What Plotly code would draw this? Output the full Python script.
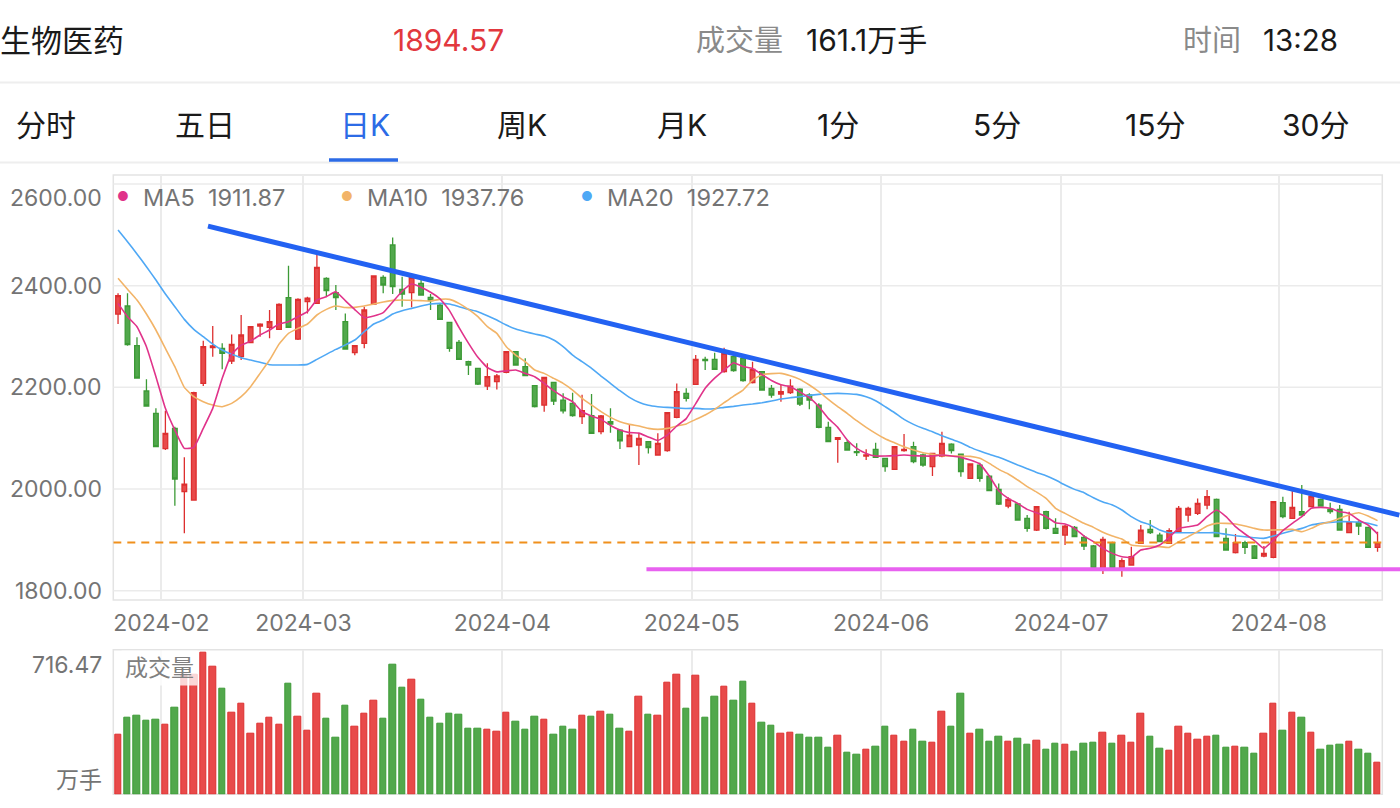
import plotly.graph_objects as go

# ---------------- data ----------------
OPEN = [2344.2, 2360.0, 2282.0, 2192.8, 2148.8, 2079.3, 2119.3, 1994.7, 1978.3, 2207.8,
        2278.0, 2276.7, 2251.8, 2260.3, 2287.8, 2320.6, 2318.0, 2314.0, 2376.4, 2295.0,
        2368.5, 2365.2, 2414.4, 2386.2, 2329.2, 2268.2, 2286.5, 2363.9, 2416.4, 2480.0,
        2392.8, 2386.2, 2404.6, 2377.0, 2361.9, 2327.8, 2288.5, 2250.5, 2237.4, 2202.6,
        2211.1, 2229.5, 2270.1, 2240.6, 2203.3, 2165.2, 2209.8, 2175.0, 2168.5, 2142.3,
        2144.2, 2112.8, 2132.4, 2116.0, 2083.3, 2086.5, 2093.1, 2066.9, 2075.4, 2141.0,
        2188.2, 2205.9, 2255.0, 2255.0, 2230.8, 2260.3, 2257.0, 2209.2, 2230.8, 2198.0,
        2186.9, 2189.5, 2196.7, 2184.9, 2165.2, 2121.3, 2097.7, 2091.1, 2073.4, 2064.9,
        2078.0, 2060.3, 2038.7, 2075.4, 2083.3, 2066.9, 2043.9, 2064.9, 2088.5, 2068.8,
        2021.0, 2047.2, 2025.5, 1999.3, 1966.6, 1970.5, 1942.3, 1919.3, 1955.4, 1922.6,
        1909.5, 1924.6, 1904.9, 1887.9, 1843.9, 1894.4, 1845.9, 1850.5, 1893.1, 1920.6,
        1909.5, 1893.1, 1916.0, 1948.8, 1952.1, 1968.5, 1979.7, 1903.0, 1874.8, 1894.4,
        1887.9, 1868.2, 1865.6, 1973.1, 1942.3, 1955.4, 1965.2, 1979.7, 1960.0, 1960.0,
        1914.1, 1933.8, 1924.6, 1885.2]
HIGH = [2384.9, 2384.9, 2298.3, 2215.7, 2158.7, 2154.1, 2122.6, 2062.3, 2191.5, 2291.8,
        2320.6, 2286.5, 2304.2, 2342.3, 2320.6, 2325.9, 2352.1, 2365.2, 2439.3, 2375.1,
        2378.3, 2463.6, 2416.4, 2401.3, 2345.5, 2283.3, 2358.7, 2420.3, 2420.3, 2495.0,
        2417.7, 2422.9, 2411.1, 2383.6, 2365.2, 2329.2, 2293.0, 2252.4, 2238.7, 2247.2,
        2226.2, 2271.4, 2271.4, 2257.0, 2204.6, 2221.0, 2211.1, 2188.2, 2189.5, 2185.6,
        2187.0, 2145.5, 2158.7, 2117.4, 2125.9, 2109.5, 2094.4, 2109.5, 2151.5, 2207.8,
        2198.0, 2263.6, 2260.3, 2268.2, 2278.0, 2263.6, 2258.3, 2250.5, 2232.1, 2204.6,
        2204.6, 2215.7, 2198.0, 2188.2, 2168.5, 2132.4, 2101.0, 2096.4, 2089.8, 2078.0,
        2091.1, 2061.6, 2084.6, 2108.2, 2093.1, 2070.1, 2071.5, 2112.8, 2089.8, 2070.1,
        2050.5, 2051.8, 2027.5, 2011.1, 1983.6, 1971.8, 1948.8, 1966.5, 1957.4, 1942.3,
        1929.2, 1927.2, 1909.5, 1889.8, 1906.2, 1896.4, 1863.6, 1886.6, 1929.2, 1939.0,
        1914.1, 1922.6, 1966.5, 1965.2, 1981.6, 1998.0, 1981.6, 1922.6, 1911.5, 1898.4,
        1889.8, 1887.9, 1976.4, 1984.9, 1996.7, 2007.9, 1994.7, 1981.6, 1973.1, 1968.5,
        1955.4, 1937.7, 1925.9, 1916.0]
LOW = [2324.5, 2282.0, 2218.3, 2163.3, 2083.3, 2076.7, 1967.2, 1912.8, 1978.3, 2202.6,
       2260.3, 2235.4, 2245.9, 2253.8, 2286.5, 2299.6, 2296.4, 2312.7, 2318.0, 2293.0,
       2345.5, 2363.9, 2378.3, 2352.1, 2275.4, 2262.9, 2276.7, 2362.6, 2384.9, 2383.6,
       2358.7, 2357.4, 2380.3, 2352.0, 2332.4, 2270.1, 2253.7, 2224.2, 2204.6, 2194.7,
       2196.0, 2227.5, 2242.6, 2222.9, 2160.6, 2152.0, 2165.2, 2148.8, 2142.3, 2127.9,
       2108.2, 2107.5, 2110.8, 2078.7, 2082.0, 2047.2, 2070.1, 2066.9, 2073.4, 2139.0,
       2172.0, 2204.6, 2234.1, 2234.1, 2228.8, 2230.8, 2211.1, 2207.8, 2193.4, 2179.7,
       2171.8, 2186.9, 2163.3, 2156.7, 2119.3, 2093.1, 2051.8, 2075.4, 2064.9, 2057.0,
       2062.3, 2034.1, 2038.7, 2073.4, 2050.5, 2043.9, 2025.5, 2062.3, 2070.1, 2024.2,
       2019.7, 2014.4, 1996.7, 1968.5, 1962.0, 1937.7, 1916.0, 1917.4, 1920.6, 1911.5,
       1889.8, 1904.9, 1880.0, 1843.9, 1832.8, 1842.6, 1827.5, 1849.2, 1891.8, 1911.5,
       1895.1, 1893.1, 1914.8, 1935.7, 1948.8, 1960.0, 1906.2, 1880.0, 1873.4, 1872.1,
       1862.3, 1865.6, 1863.6, 1942.3, 1941.0, 1947.5, 1963.9, 1965.2, 1951.5, 1918.0,
       1912.8, 1909.5, 1884.6, 1876.6]
CLOSE = [2380.3, 2283.9, 2218.3, 2163.3, 2083.3, 2109.5, 2019.7, 2009.8, 2189.5, 2280.0,
         2281.3, 2266.9, 2284.6, 2303.0, 2319.3, 2324.5, 2329.2, 2363.2, 2318.0, 2373.1,
         2375.7, 2436.0, 2390.1, 2376.4, 2275.4, 2282.0, 2352.1, 2419.0, 2401.3, 2398.0,
         2383.6, 2416.4, 2381.6, 2370.5, 2333.7, 2276.7, 2255.0, 2243.9, 2206.5, 2221.0,
         2222.3, 2270.1, 2243.9, 2222.9, 2162.0, 2219.6, 2173.1, 2154.0, 2144.2, 2154.1,
         2109.5, 2143.6, 2127.9, 2095.0, 2106.2, 2099.7, 2081.3, 2089.8, 2150.1, 2191.5,
         2178.3, 2255.0, 2252.4, 2235.4, 2266.9, 2232.8, 2213.1, 2235.4, 2194.7, 2184.9,
         2191.5, 2202.6, 2167.2, 2175.0, 2121.3, 2093.1, 2101.0, 2076.7, 2071.5, 2066.9,
         2062.3, 2043.9, 2083.3, 2078.0, 2053.8, 2047.2, 2070.1, 2089.8, 2075.4, 2034.1,
         2049.2, 2021.0, 1996.7, 1970.5, 1979.7, 1939.0, 1922.6, 1965.2, 1922.6, 1912.8,
         1927.2, 1906.2, 1887.9, 1843.9, 1901.0, 1843.9, 1859.0, 1866.9, 1919.3, 1914.1,
         1896.4, 1918.0, 1961.9, 1961.9, 1971.8, 1984.9, 1906.2, 1880.0, 1894.4, 1885.2,
         1863.6, 1873.4, 1975.1, 1945.6, 1963.9, 1948.8, 1986.2, 1966.6, 1955.4, 1919.3,
         1933.8, 1927.2, 1885.2, 1894.57]
VOLUME = [304, 389, 401, 372, 379, 355, 439, 608, 606, 716.47,
          647, 534, 412, 461, 309, 357, 387, 352, 561, 395,
          323, 509, 385, 289, 451, 343, 407, 477, 385, 657,
          542, 583, 482, 390, 360, 409, 404, 335, 335, 330,
          319, 414, 370, 326, 395, 380, 301, 345, 330, 401,
          395, 421, 406, 335, 319, 495, 402, 401, 568, 607,
          434, 602, 390, 497, 546, 475, 571, 461, 363, 350,
          308, 311, 303, 289, 289, 238, 297, 213, 199, 225,
          240, 345, 299, 269, 330, 265, 264, 417, 345, 510,
          309, 330, 269, 291, 269, 282, 252, 270, 228, 259,
          254, 215, 255, 260, 314, 257, 299, 260, 411, 294,
          233, 223, 345, 306, 279, 292, 297, 238, 240, 235,
          204, 309, 458, 324, 412, 389, 313, 228, 245, 252,
          265, 228, 208, 161.1]
MA5 = [2365.2, 2339.0, 2319.3, 2280.0, 2221.0, 2158.7, 2116.0, 2080.0, 2082.0, 2119.3,
       2158.7, 2217.7, 2265.0, 2283.0, 2291.0, 2303.0, 2312.8, 2324.6, 2329.2, 2339.0,
       2348.8, 2371.8, 2378.3, 2388.2, 2370.5, 2353.0, 2337.0, 2340.3, 2346.9, 2368.0,
       2389.0, 2403.2, 2397.0, 2387.0, 2374.0, 2351.0, 2318.0, 2287.0, 2259.0, 2239.0,
       2230.5, 2232.5, 2234.1, 2227.5, 2221.0, 2207.8, 2193.4, 2181.6, 2171.8, 2152.0,
       2143.6, 2137.0, 2125.0, 2116.0, 2111.0, 2110.0, 2102.5, 2095.5, 2106.0, 2124.0,
       2138.5, 2168.0, 2198.0, 2218.0, 2234.0, 2248.5, 2241.0, 2237.0, 2225.0, 2213.5,
       2205.0, 2201.3, 2190.8, 2179.7, 2162.0, 2139.0, 2121.3, 2096.4, 2080.0, 2070.1,
       2064.9, 2064.9, 2065.6, 2066.9, 2065.6, 2064.9, 2064.9, 2066.9, 2064.9, 2062.3,
       2057.0, 2049.2, 2025.6, 1996.7, 1981.6, 1971.8, 1960.0, 1953.4, 1945.6, 1933.8,
       1931.1, 1922.6, 1907.5, 1896.4, 1883.3, 1873.4, 1866.9, 1865.6, 1880.0, 1883.3,
       1889.8, 1904.9, 1922.6, 1925.9, 1929.2, 1945.6, 1958.7, 1945.6, 1925.9, 1911.5,
       1898.4, 1883.3, 1899.7, 1918.0, 1932.5, 1945.6, 1962.0, 1963.9, 1962.0, 1955.4,
       1952.1, 1939.0, 1929.2, 1911.87]
MA10 = [2414.4, 2392.8, 2371.8, 2344.2, 2312.8, 2276.7, 2240.6, 2200.0, 2181.6, 2171.8,
        2165.2, 2161.9, 2168.5, 2181.6, 2201.3, 2227.5, 2253.7, 2285.0, 2306.2, 2316.0,
        2324.6, 2342.3, 2353.4, 2360.0, 2357.0, 2357.4, 2360.0, 2363.9, 2367.8, 2371.1,
        2371.8, 2371.1, 2370.5, 2369.9, 2373.1, 2373.1, 2365.2, 2353.4, 2339.0, 2319.3,
        2306.2, 2280.0, 2263.6, 2250.5, 2234.1, 2227.5, 2217.7, 2207.8, 2194.7, 2178.3,
        2165.2, 2152.1, 2141.0, 2132.4, 2127.2, 2123.9, 2119.3, 2117.4, 2119.3, 2123.9,
        2128.0, 2137.0, 2145.5, 2156.7, 2169.8, 2182.9, 2194.7, 2214.4, 2224.9, 2226.9,
        2227.5, 2222.9, 2215.7, 2204.6, 2191.5, 2176.4, 2162.0, 2148.8, 2134.4, 2121.3,
        2109.5, 2099.0, 2091.1, 2083.3, 2076.7, 2071.5, 2068.2, 2066.2, 2064.9, 2064.9,
        2064.2, 2060.3, 2050.4, 2038.7, 2029.5, 2017.7, 2004.6, 1994.0, 1981.6, 1962.0,
        1952.1, 1942.3, 1932.5, 1924.6, 1914.8, 1907.5, 1901.6, 1889.8, 1887.9, 1887.2,
        1886.6, 1885.2, 1896.4, 1906.2, 1916.1, 1927.2, 1932.5, 1932.5, 1931.1, 1927.2,
        1922.6, 1919.3, 1919.3, 1920.0, 1920.6, 1916.0, 1922.6, 1931.1, 1935.7, 1942.3,
        1948.8, 1953.4, 1946.9, 1937.76]
MA20 = [2509.5, 2486.5, 2462.3, 2437.4, 2411.1, 2383.6, 2358.7, 2333.7, 2314.1, 2299.6,
        2285.2, 2273.4, 2264.9, 2258.3, 2253.7, 2249.2, 2244.6, 2243.9, 2243.9, 2243.9,
        2245.2, 2255.0, 2264.9, 2274.7, 2283.5, 2293.1, 2309.5, 2324.6, 2332.4, 2344.2,
        2350.8, 2355.4, 2360.0, 2363.9, 2365.2, 2363.9, 2358.7, 2353.4, 2348.8, 2341.0,
        2332.4, 2322.6, 2314.7, 2309.5, 2304.9, 2301.0, 2293.1, 2280.0, 2263.6, 2250.5,
        2237.4, 2222.3, 2207.8, 2193.4, 2180.3, 2170.5, 2164.6, 2161.9, 2160.6, 2159.5,
        2158.5, 2158.7, 2157.4, 2158.0, 2160.6, 2162.6, 2165.2, 2167.2, 2169.8, 2173.1,
        2177.0, 2179.7, 2181.6, 2184.2, 2186.2, 2187.5, 2188.2, 2187.5, 2186.2, 2181.6,
        2173.7, 2162.0, 2150.1, 2137.0, 2127.2, 2119.3, 2112.8, 2104.9, 2097.7, 2091.1,
        2081.9, 2074.7, 2068.2, 2062.3, 2055.1, 2047.2, 2040.0, 2032.5, 2026.2, 2017.7,
        2007.9, 1999.3, 1992.8, 1982.9, 1974.4, 1968.5, 1958.7, 1945.6, 1935.7, 1929.2,
        1919.3, 1914.1, 1914.1, 1914.1, 1914.1, 1914.1, 1914.1, 1910.8, 1908.2, 1906.2,
        1904.1, 1902.9, 1907.5, 1912.8, 1918.0, 1922.6, 1929.2, 1932.5, 1934.4, 1935.7,
        1935.7, 1935.1, 1932.5, 1927.72]

MONTH_LABELS = ["2024-02", "2024-03", "2024-04", "2024-05", "2024-06", "2024-07", "2024-08"]
MONTH_START = [5, 20, 41, 61, 81, 100, 123]          # index of first trading day of each month
Y_TICKS = [1800, 2000, 2200, 2400, 2600]
VOL_TOP_LABEL = "716.47"
VOL_UNIT = "万手"

TREND_X = [9.5, 135.3]          # hand-drawn resistance line (bar index, price)
TREND_Y = [2517.0, 1948.7]
SUPPORT_X = [55.8, 135.4]       # hand-drawn support line
SUPPORT_Y = [1842.0, 1842.0]

NAME = "生物医药"
TIME_TEXT = "13:28"
TABS = ["分时", "五日", "日K", "周K", "月K", "1分", "5分", "15分", "30分"]
ACTIVE_TAB = "日K"

# ---------------- style ----------------
W, H = 1400, 808
FONT = "Inter, 'Noto Sans CJK SC', sans-serif"
RED, RED_LINE = "#E84A4A", "#DD2F2F"
GREEN, GREEN_LINE = "#52A84C", "#3C9A36"
C_MA5, C_MA10, C_MA20 = "#E0338A", "#F2B468", "#4FA8F5"
GRID = "#EBEBEB"
LABEL = "#747474"


def px(x):
    return x / W


def py(y):
    return 1 - y / H


N = len(CLOSE)
idx = list(range(N))
up = [c >= o for o, c in zip(OPEN, CLOSE)]

fig = go.Figure()

fig.add_trace(go.Candlestick(
    x=idx, open=OPEN, high=HIGH, low=LOW, close=CLOSE,
    increasing=dict(line=dict(color=RED_LINE, width=1.3), fillcolor=RED),
    decreasing=dict(line=dict(color=GREEN_LINE, width=1.3), fillcolor=GREEN),
    whiskerwidth=0, showlegend=False, xaxis="x", yaxis="y"))

for ser, col in ((MA20, C_MA20), (MA10, C_MA10), (MA5, C_MA5)):
    fig.add_trace(go.Scatter(x=idx, y=ser, mode="lines",
                             line=dict(color=col, width=1.6, shape="spline", smoothing=0.4),
                             showlegend=False, hoverinfo="skip", xaxis="x", yaxis="y"))

fig.add_trace(go.Bar(
    x=idx, y=VOLUME, width=0.68,
    marker=dict(color=[RED if u else GREEN for u in up],
                line=dict(color=[RED_LINE if u else GREEN_LINE for u in up], width=1)),
    showlegend=False, xaxis="x2", yaxis="y2"))

x_left, x_right_plot = -0.5, N - 0.5
x_range = [x_left, x_left + (W - 113.3) / 9.47]
grid_x = [m - 0.42 for m in MONTH_START]

fig.update_layout(
    width=W, height=H, margin=dict(l=0, r=0, t=0, b=0),
    paper_bgcolor="white", plot_bgcolor="white",
    font=dict(family=FONT, color=LABEL),
    showlegend=False, bargap=0,
    xaxis=dict(domain=[px(113.3), 1.0], range=x_range, tickvals=grid_x, ticktext=MONTH_LABELS,
               showgrid=True, gridcolor=GRID, gridwidth=1.5, zeroline=False, showline=False,
               ticks="", tickfont=dict(size=23, color=LABEL, family=FONT),
               ticklabelstandoff=7, rangeslider=dict(visible=False), fixedrange=True),
    yaxis=dict(domain=[py(600), py(175)], range=[1781.7, 2617.7], showgrid=False,
               zeroline=False, showticklabels=False, fixedrange=True),
    xaxis2=dict(domain=[px(113.3), 1.0], range=x_range, tickvals=grid_x, showticklabels=False,
                showgrid=True, gridcolor=GRID, gridwidth=1.5, zeroline=False, anchor="y2",
                matches="x"),
    yaxis2=dict(domain=[py(794.3), py(649.7)], range=[0, 733.2], showgrid=False,
                zeroline=False, showticklabels=False, anchor="x2"),
)

shapes = []
# horizontal grid of the price panel
for v in Y_TICKS:
    shapes.append(dict(type="line", xref="x", yref="y", x0=x_left, x1=x_right_plot, y0=v, y1=v,
                       line=dict(color=GRID, width=1.5), layer="below"))
# panel frames
for top, bot in ((175, 600), (649.7, 794.3)):
    shapes.append(dict(type="rect", xref="paper", yref="paper", x0=px(113.3), x1=px(1382.3),
                       y0=py(bot), y1=py(top), line=dict(color="#E3E3E3", width=1.5),
                       layer="below"))
# last-price dashed line
shapes.append(dict(type="line", xref="x", yref="y", x0=x_left, x1=x_right_plot,
                   y0=CLOSE[-1], y1=CLOSE[-1], line=dict(color="#F0901C", width=2, dash="8px,6px"),
                   layer="above"))
# drawn lines
shapes.append(dict(type="line", xref="x", yref="y", x0=SUPPORT_X[0], x1=SUPPORT_X[1],
                   y0=SUPPORT_Y[0], y1=SUPPORT_Y[1], line=dict(color="#E862F0", width=4),
                   layer="above"))
shapes.append(dict(type="line", xref="x", yref="y", x0=TREND_X[0], x1=TREND_X[1],
                   y0=TREND_Y[0], y1=TREND_Y[1], line=dict(color="#2362F2", width=5),
                   layer="above"))
# header separators and tab underline
shapes.append(dict(type="line", xref="paper", yref="paper", x0=0, x1=1, y0=py(82.5), y1=py(82.5),
                   line=dict(color="#EEEEEE", width=2)))
shapes.append(dict(type="line", xref="paper", yref="paper", x0=0, x1=1, y0=py(162.5), y1=py(162.5),
                   line=dict(color="#EEEEEE", width=2)))
shapes.append(dict(type="line", xref="paper", yref="paper", x0=px(329), x1=px(398),
                   y0=py(160), y1=py(160), line=dict(color="#2C6BE6", width=3.5)))
fig.update_layout(shapes=shapes)

ann = []


def text(x, y, s, size, color, anchor="left", **kw):
    ann.append(dict(x=px(x), y=py(y), xref="paper", yref="paper", text=s, showarrow=False,
                    xanchor=anchor, yanchor="middle", font=dict(size=size, color=color, family=FONT),
                    **kw))


# header row
text(-2, 40, NAME, 31, "#1A1A1A")
text(448, 40, f"{CLOSE[-1]:.2f}", 30, "#E2383E", "center")
text(694, 40, "成交量", 29, "#8A8A8A")
text(804, 40, f"{VOLUME[-1]:.1f}万手", 30, "#1A1A1A")
text(1181, 40, "时间", 29, "#8A8A8A")
text(1261, 40, TIME_TEXT, 29.5, "#1A1A1A")

# tabs
tab_x = [46, 205, 365, 522, 682, 838, 997, 1155, 1315]
for t, xx in zip(TABS, tab_x):
    text(xx, 125, t, 30, "#2C6BE6" if t == ACTIVE_TAB else "#1A1A1A", "center")

# price axis labels
for v in Y_TICKS:
    ann.append(dict(x=px(104), y=v, xref="paper", yref="y", text=f"{v:.2f}", showarrow=False,
                    xanchor="right", yanchor="middle", yshift=-14 if v == max(Y_TICKS) else 0,
                    font=dict(size=23, color=LABEL, family=FONT)))

# MA legend
legend = [("MA5", MA5[-1], C_MA5, 123), ("MA10", MA10[-1], C_MA10, 347), ("MA20", MA20[-1], C_MA20, 587)]
for name, val, col, xx in legend:
    text(xx, 196, "●", 13, col, "center")
    text(xx + 18, 197, f"{name}&nbsp;&nbsp;{val:.2f}", 23.5, LABEL)

# volume panel labels
text(104, 665, VOL_TOP_LABEL, 23, LABEL, "right")
text(104, 780, VOL_UNIT, 23, LABEL, "right")
text(121, 668, "成交量", 23, "#808080", "left", bgcolor="rgba(255,255,255,0.78)", borderpad=3)

fig.update_layout(annotations=ann)

fig.write_html("out.html")
